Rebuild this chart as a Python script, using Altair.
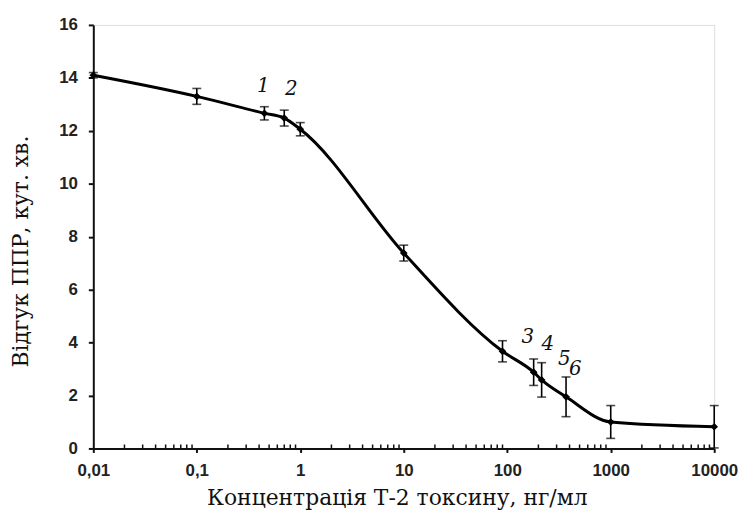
import altair as alt
import pandas as pd

conc = [0.01, 0.1, 0.45, 0.7, 1, 10, 90, 180, 215, 370, 1000, 10000]
resp = [14.1, 13.3, 12.66, 12.48, 12.06, 7.38, 3.67, 2.88, 2.59, 1.95, 1.0, 0.82]
err = [0.1, 0.3, 0.25, 0.3, 0.25, 0.3, 0.4, 0.5, 0.65, 0.75, 0.62, 0.8]

lab_text = ["1", "2", "3", "4", "5", "6"]
lab_x = [0.44, 0.82, 158, 246, 357, 454]
lab_y = [13.68, 13.56, 4.2, 3.93, 3.37, 3.0]

major_ticks = [0.01, 0.1, 1, 10, 100, 1000, 10000]
minor_ticks = [m * d for d in [0.01, 0.1, 1, 10, 100, 1000] for m in range(2, 10)]

W, H = 626, 427

df = pd.DataFrame({"c": conc, "r": resp, "lo": [a - b for a, b in zip(resp, err)],
                   "hi": [a + b for a, b in zip(resp, err)]})
labs = pd.DataFrame({"t": lab_text, "x": lab_x, "y": lab_y})
minor = pd.DataFrame({"m": minor_ticks})

xscale = alt.Scale(type="log", domain=[0.01, 10000], nice=False)
yscale = alt.Scale(domain=[0, 16], nice=False)

xaxis = alt.Axis(values=major_ticks, labelExpr="replace(format(datum.value, '~g'), '.', ',')",
                 title="Концентрація Т-2 токсину, нг/мл", grid=False, labelFlush=False,
                 labelFont="Liberation Sans", labelFontWeight="bold", labelFontSize=17,
                 labelColor="#222", titleFont="DejaVu Serif", titleFontWeight="normal",
                 titleFontSize=22, titleColor="#111", titlePadding=10, titleX=306,
                 domainColor="#111", domainWidth=2, tickColor="#111", tickWidth=2, tickSize=4,
                 labelPadding=10)
yaxis = alt.Axis(values=list(range(0, 17, 2)), title="Відгук ППР, кут. хв.", grid=False,
                 labelFont="Liberation Sans", labelFontWeight="bold", labelFontSize=17,
                 labelColor="#222", titleFont="DejaVu Serif", titleFontWeight="normal",
                 titleFontSize=22, titleColor="#111", titlePadding=26, titleY=228,
                 domainColor="#111", domainWidth=2, tickColor="#111", tickWidth=2, tickSize=5,
                 labelPadding=11)

base = alt.Chart(df)

line = base.mark_line(color="black", strokeWidth=3, interpolate="monotone").encode(
    x=alt.X("c:Q", scale=xscale, axis=xaxis),
    y=alt.Y("r:Q", scale=yscale, axis=yaxis),
)
bars = base.mark_rule(color="black", strokeWidth=1.6).encode(
    x="c:Q", y="lo:Q", y2="hi:Q")
cap_lo = base.mark_tick(color="black", orient="horizontal", size=9, thickness=1.6).encode(
    x="c:Q", y="lo:Q")
cap_hi = base.mark_tick(color="black", orient="horizontal", size=9, thickness=1.6).encode(
    x="c:Q", y="hi:Q")
pts = base.mark_point(shape="diamond", filled=True, color="black", size=60, opacity=1).encode(
    x="c:Q", y="r:Q")
minor_rules = alt.Chart(minor).mark_rule(color="#111", strokeWidth=1.5).encode(
    x=alt.X("m:Q", scale=xscale), y=alt.value(H), y2=alt.value(H - 4))
texts = alt.Chart(labs).mark_text(font="DejaVu Serif", fontStyle="italic", fontSize=20,
                                  color="#111", baseline="middle", align="center").encode(
    x=alt.X("x:Q", scale=xscale), y=alt.Y("y:Q", scale=yscale), text="t:N")

chart = alt.layer(line, bars, cap_lo, cap_hi, pts, minor_rules, texts).properties(
    width=W, height=H,
    autosize=alt.AutoSizeParams(type="none"),
    padding={"left": 86, "top": 15, "right": 26, "bottom": 60},
).configure_view(stroke=None).configure(background="white")

chart.save("out.html", embed_options={"renderer": "svg", "actions": False})
